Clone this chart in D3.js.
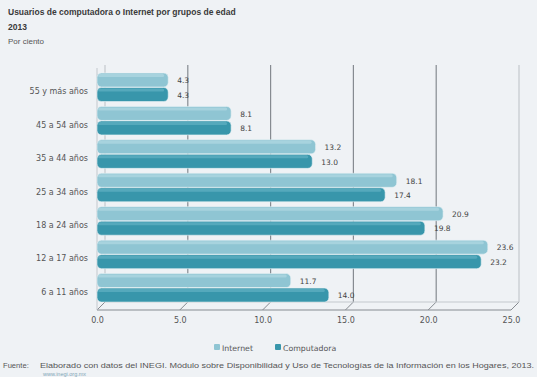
<!DOCTYPE html>
<html><head><meta charset="utf-8">
<script src="https://cdn.jsdelivr.net/npm/d3@7/dist/d3.min.js"></script>
<style>body{margin:0;background:#eff2f5;}svg{display:block;font-family:"DejaVu Sans",Arial,sans-serif;}</style>
</head><body><svg id="c" width="537" height="377"></svg>
<script>
const categories = ["55 y más años","45 a 54 años","35 a 44 años","25 a 34 años","18 a 24 años","12 a 17 años","6 a 11 años"];
const internet =    [4.3, 8.1, 13.2, 18.1, 20.9, 23.6, 11.7];
const computadora = [4.3, 8.1, 13.0, 17.4, 19.8, 23.2, 14.0];
const seriesNames = ["Internet","Computadora"];
const xTicks = [0,5,10,15,20,25];

const svg = d3.select("#c");
svg.append("rect").attr("width",537).attr("height",377).attr("fill","#eff2f5");

const x = d3.scaleLinear().domain([0,25]).range([97,511]);
const y = d3.scaleBand().domain(categories).range([71,305]);
const dx = 8;

// title
const LS = "Liberation Sans, Arial, sans-serif";
svg.append("text").attr("x",8).attr("y",15).attr("font-size",8.5).attr("font-weight","bold").attr("fill","#3a3a3a").attr("font-family",LS)
  .text("Usuarios de computadora o Internet por grupos de edad");
svg.append("text").attr("x",8).attr("y",30).attr("font-size",8.5).attr("font-weight","bold").attr("fill","#3a3a3a").attr("font-family",LS).text("2013");
svg.append("text").attr("x",8).attr("y",44).attr("font-size",8).attr("fill","#555").attr("font-family",LS).text("Por ciento");

// back wall gridlines
const g = svg.append("g");
xTicks.forEach(t=>{
  g.append("line").attr("x1",x(t)+dx).attr("x2",x(t)+dx).attr("y1",65).attr("y2",302)
    .attr("stroke", t===0||t===25 ? "#c3c8cd":"#868b91").attr("stroke-width",1.2);
  g.append("line").attr("x1",x(t)+dx).attr("x2",x(t)).attr("y1",302).attr("y2",310)
    .attr("stroke","#868b91").attr("stroke-width",1);
});
g.append("line").attr("x1",x(0)).attr("x2",x(25)).attr("y1",310).attr("y2",310).attr("stroke","#868b91");
g.append("line").attr("x1",x(0)+dx).attr("x2",x(25)+dx).attr("y1",302).attr("y2",302).attr("stroke","#c3c8cd");
g.append("line").attr("x1",x(0)).attr("x2",x(0)).attr("y1",68).attr("y2",310).attr("stroke","#c3c8cd");

// x tick labels
const xAxis = d3.axisBottom(x).tickValues(xTicks).tickFormat(d3.format(".1f")).tickSize(0).tickPadding(7);
const ax = svg.append("g").attr("transform","translate(0,310)").call(xAxis);
ax.select(".domain").remove();
ax.selectAll("text").attr("font-size",8).attr("fill","#555").attr("font-family","DejaVu Sans, sans-serif");

// y labels
const yAxis = d3.axisLeft(y).tickSize(0).tickPadding(9);
const ay = svg.append("g").attr("transform","translate(97,4)").call(yAxis);
ay.select(".domain").remove();
ay.selectAll("text").attr("font-size",8).attr("fill","#555").attr("font-family","DejaVu Sans, sans-serif");

const colors = ["#8fc5d3","#3896ab"];
const tops = ["#b0d8e2","#62b1c3"];
const bh = 14.5;
const data = categories.map((c,i)=>({c, vals:[internet[i], computadora[i]]}));
const bars = svg.append("g");
data.forEach(d=>{
  d.vals.forEach((v,k)=>{
    const y0 = y(d.c) + 2 + k*bh;
    bars.append("rect").attr("x",x(0)).attr("y",y0).attr("width",x(v)-x(0)).attr("height",bh-0.5)
      .attr("rx",4.5).attr("fill",colors[k]).attr("stroke","#e8f2f5").attr("stroke-width",0.6);
    bars.append("rect").attr("x",x(0)+1).attr("y",y0+1).attr("width",Math.max(0,x(v)-x(0)-5)).attr("height",3)
      .attr("rx",1.5).attr("fill",tops[k]).attr("opacity",0.7);
    bars.append("text").attr("x",x(v)+9).attr("y",y0+bh/2+3).attr("font-size",7.5).attr("fill","#444")
      .text(v.toFixed(1));
  });
});

// legend
const lg = svg.append("g");
[214,275].forEach((lx,k)=>{
  lg.append("rect").attr("x",lx).attr("y",344).attr("width",6).attr("height",6).attr("rx",1).attr("fill",colors[k]);
  lg.append("text").attr("x",lx+8).attr("y",350.5).attr("font-size",7.8).attr("fill","#555").text(seriesNames[k]);
});

// footnote
svg.append("text").attr("x",3).attr("y",368).attr("font-size",7.6).attr("fill","#555").attr("font-family",LS).text("Fuente:");
svg.append("text").attr("x",40).attr("y",368).attr("font-size",7.6).attr("fill","#555").attr("font-family",LS)
  .attr("textLength",494).attr("lengthAdjust","spacingAndGlyphs")
  .text("Elaborado con datos del INEGI. Módulo sobre Disponibilidad y Uso de Tecnologías de la Información en los Hogares, 2013.");
svg.append("text").attr("x",43).attr("y",376).attr("font-size",5.5).attr("fill","#7fa6b8").attr("font-family",LS).text("www.inegi.org.mx");
</script></body></html>
